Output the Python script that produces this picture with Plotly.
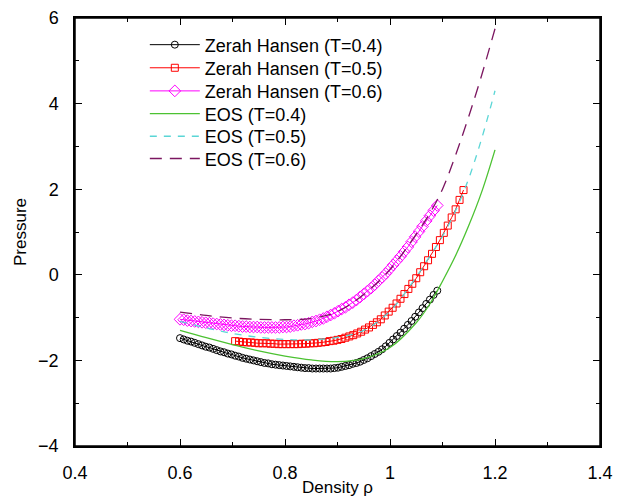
import plotly.graph_objects as go

# ---------------- data ----------------
# Zerah-Hansen, T=0.4 (density grid step 0.007 from 0.6)
rho_zh04 = [round(0.6 + 0.007 * i, 3) for i in range(71)]
p_zh04 = [-1.48, -1.51, -1.54, -1.56, -1.59, -1.62, -1.65, -1.68, -1.70, -1.73,
          -1.76, -1.79, -1.81, -1.84, -1.86, -1.89, -1.91, -1.94, -1.96, -1.98,
          -2.00, -2.02, -2.04, -2.06, -2.07, -2.09, -2.10, -2.11, -2.12, -2.13,
          -2.14, -2.15, -2.16, -2.17, -2.18, -2.18, -2.19, -2.19, -2.19, -2.19,
          -2.19, -2.19, -2.18, -2.17, -2.15, -2.13, -2.11, -2.08, -2.06, -2.03,
          -1.99, -1.95, -1.90, -1.85, -1.80, -1.74, -1.67, -1.59, -1.51, -1.43,
          -1.35, -1.26, -1.17, -1.08, -0.98, -0.88, -0.78, -0.68, -0.58, -0.47,
          -0.37]

# Zerah-Hansen, T=0.5 (density grid step 0.0075 from 0.705)
rho_zh05 = [round(0.705 + 0.0075 * i, 4) for i in range(59)]
p_zh05 = [-1.55, -1.56, -1.57, -1.58, -1.58, -1.59, -1.60, -1.60, -1.60, -1.61,
          -1.61, -1.62, -1.62, -1.62, -1.62, -1.62, -1.62, -1.61, -1.61, -1.60,
          -1.60, -1.59, -1.58, -1.57, -1.55, -1.54, -1.52, -1.50, -1.47, -1.44,
          -1.41, -1.37, -1.33, -1.28, -1.23, -1.17, -1.11, -1.04, -0.95, -0.86,
          -0.77, -0.67, -0.56, -0.45, -0.33, -0.21, -0.08, 0.06, 0.20, 0.34,
          0.49, 0.65, 0.81, 0.98, 1.15, 1.34, 1.53, 1.75, 1.98]

# Zerah-Hansen, T=0.6 (density grid step 0.007 from 0.6)
rho_zh06 = [round(0.6 + 0.007 * i, 3) for i in range(71)]
p_zh06 = [-1.04, -1.05, -1.07, -1.08, -1.09, -1.10, -1.11, -1.12, -1.13, -1.14,
          -1.15, -1.16, -1.17, -1.18, -1.19, -1.19, -1.20, -1.21, -1.21, -1.22,
          -1.22, -1.22, -1.23, -1.23, -1.23, -1.23, -1.23, -1.23, -1.22, -1.22,
          -1.21, -1.19, -1.18, -1.16, -1.15, -1.13, -1.10, -1.08, -1.05, -1.02,
          -0.98, -0.94, -0.90, -0.85, -0.80, -0.76, -0.70, -0.65, -0.59, -0.52,
          -0.45, -0.38, -0.31, -0.23, -0.14, -0.06, 0.03, 0.13, 0.23, 0.33,
          0.43, 0.54, 0.65, 0.77, 0.89, 1.01, 1.13, 1.26, 1.38, 1.50,
          1.62]

# Equation of state curves
rho_eos = [0.6, 0.65, 0.7, 0.75, 0.8, 0.85, 0.9, 0.95, 1.0, 1.05,
           1.075, 1.1, 1.125, 1.15, 1.175, 1.2]
p_eos04 = [-1.30, -1.47, -1.63, -1.78, -1.90, -1.99, -2.03, -1.96, -1.70, -1.12,
           -0.70, -0.15, 0.45, 1.15, 1.95, 2.92]
p_eos05 = [-1.09, -1.24, -1.37, -1.46, -1.51, -1.52, -1.46, -1.30, -0.85, -0.05,
           0.42, 0.90, 1.50, 2.25, 3.20, 4.30]
p_eos06 = [-0.87, -0.95, -1.01, -1.04, -1.05, -1.02, -0.86, -0.46, 0.12, 0.95,
           1.42, 2.00, 2.80, 3.70, 4.68, 5.75]

x_ticks = [0.4, 0.6, 0.8, 1.0, 1.2, 1.4]
x_labels = ["0.4", "0.6", "0.8", "1", "1.2", "1.4"]
y_ticks = [-4, -2, 0, 2, 4, 6]
x_range = [0.4, 1.4]
y_range = [-4, 6]

series_names = ["Zerah Hansen (T=0.4)", "Zerah Hansen (T=0.5)", "Zerah Hansen (T=0.6)",
                "EOS (T=0.4)", "EOS (T=0.5)", "EOS (T=0.6)"]

# ---------------- figure ----------------
FONT = "Liberation Sans, Arial, Helvetica, sans-serif"
legend_ids = ["legend", "legend2", "legend3", "legend4", "legend5", "legend6"]
fig = go.Figure()

fig.add_trace(go.Scatter(
    x=rho_zh04, y=p_zh04, mode="lines+markers", name=series_names[0], legend=legend_ids[0],
    line=dict(color="black", width=1),
    marker=dict(symbol="circle-open", size=7, color="black", line=dict(width=1))))
fig.add_trace(go.Scatter(
    x=rho_zh05, y=p_zh05, mode="lines+markers", name=series_names[1], legend=legend_ids[1],
    line=dict(color="#ff0000", width=1),
    marker=dict(symbol="square-open", size=7, color="#ff0000", line=dict(width=1))))
fig.add_trace(go.Scatter(
    x=rho_zh06, y=p_zh06, mode="lines+markers", name=series_names[2], legend=legend_ids[2],
    line=dict(color="#ff00ff", width=1),
    marker=dict(symbol="diamond-open", size=9, color="#ff00ff", line=dict(width=1))))
fig.add_trace(go.Scatter(
    x=rho_eos, y=p_eos04, mode="lines", name=series_names[3], legend=legend_ids[3],
    line_shape="spline", line=dict(color="#4cc232", width=1.3)))
fig.add_trace(go.Scatter(
    x=rho_eos, y=p_eos05, mode="lines", name=series_names[4], legend=legend_ids[4],
    line_shape="spline", line=dict(color="#5ad6d6", width=1.3, dash="7px,7px")))
# last curve is drawn on the twin (top/right) axes, which share the same ranges
fig.add_trace(go.Scatter(
    x=rho_eos, y=p_eos06, mode="lines", name=series_names[5], legend=legend_ids[5],
    xaxis="x2", yaxis="y2",
    line_shape="spline", line=dict(color="#7b1660", width=1.3, dash="12px,8px")))

axis_common = dict(
    showgrid=False, zeroline=False, showline=True, linecolor="black", linewidth=1.5,
    ticks="inside", ticklen=7, tickwidth=1, tickcolor="black",
    tickfont=dict(family=FONT, size=18, color="black"), automargin=False,
    ticklabeloverflow="allow",
)

fig.update_layout(
    xaxis=dict(range=x_range, tickvals=x_ticks, ticktext=x_labels, ticklabelstandoff=10,
               minor=dict(ticks="inside", dtick=0.1, ticklen=4, tickcolor="black"),
               title=dict(text="Density ρ", font=dict(family=FONT, size=17, color="black"),
                          standoff=3),
               **axis_common),
    yaxis=dict(range=y_range, tickvals=y_ticks, ticklabelstandoff=11,
               minor=dict(ticks="inside", dtick=1, ticklen=4, tickcolor="black"),
               title=dict(text="Pressure", font=dict(family=FONT, size=17, color="black"),
                          standoff=7),
               **axis_common),
    # frame on the top and right sides, with inward ticks
    xaxis2=dict(overlaying="x", anchor="y2", side="top", range=x_range, tickvals=x_ticks,
                showticklabels=False,
                minor=dict(ticks="inside", dtick=0.1, ticklen=4, tickcolor="black"),
                **axis_common),
    yaxis2=dict(overlaying="y", anchor="x2", side="right", range=y_range, tickvals=y_ticks,
                showticklabels=False,
                minor=dict(ticks="inside", dtick=1, ticklen=4, tickcolor="black"),
                **axis_common),
    shapes=[dict(type="rect", xref="paper", yref="paper", x0=0, x1=1, y0=0, y1=1,
                 line=dict(color="black", width=1.5), fillcolor="rgba(0,0,0,0)",
                 layer="above")],
)

row_y = [0.937, 0.883, 0.829, 0.776, 0.723, 0.671]
legend_layout = {}
for lid, yy in zip(legend_ids, row_y):
    legend_layout[lid] = dict(x=0.133, y=yy, xanchor="left", yanchor="middle",
                              bgcolor="rgba(0,0,0,0)", borderwidth=0,
                              font=dict(family=FONT, size=18, color="black"),
                              itemwidth=50)

# the page adds an 8px body margin, so the figure is drawn 8px smaller
fig.update_layout(
    width=613, height=489,
    margin=dict(l=67, r=21, t=10, b=51),
    paper_bgcolor="white", plot_bgcolor="white",
    font=dict(family=FONT, size=18, color="black"),
    showlegend=True,
    **legend_layout,
)

fig.write_html("out.html")
